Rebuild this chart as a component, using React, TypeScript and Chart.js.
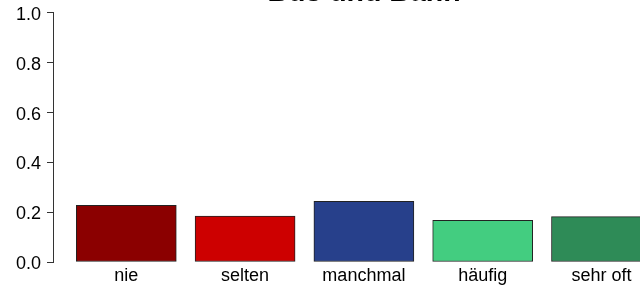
import { useEffect, useRef } from 'react';
import { Chart, registerables } from 'chart.js';

Chart.register(...registerables);

const chartTitle = 'Bus und Bahn';
const categories = ['nie', 'selten', 'manchmal', 'häufig', 'sehr oft'];
const values = [0.227, 0.184, 0.244, 0.167, 0.182];
const barColors = ['#8B0000', '#CD0000', '#27408B', '#43CD80', '#2E8B57'];
const yTicks = [0, 0.2, 0.4, 0.6, 0.8, 1.0];

const CANVAS_W = 728;
const CANVAS_H = 315;
const CANVAS_TOP = -24;
const X_MIN = -0.617;
const X_MAX = 5.065;

export default function App() {
  const ref = useRef<HTMLCanvasElement | null>(null);

  useEffect(() => {
    if (!ref.current) return;
    Chart.defaults.font.family = '"Liberation Sans", Arial, sans-serif';
    const chart = new Chart(ref.current, {
      type: 'bar',
      data: {
        datasets: [
          {
            data: values.map((v, i) => ({ x: i, y: v })),
            backgroundColor: barColors,
            borderColor: '#222',
            borderWidth: 1,
            borderSkipped: false,
            barThickness: 100,
            clip: false,
          } as any,
        ],
      },
      options: {
        animation: false,
        responsive: false,
        devicePixelRatio: 1,
        layout: { padding: { left: 0, right: 0, top: 0, bottom: 1.4 } },
        plugins: {
          legend: { display: false },
          tooltip: { enabled: false },
          title: {
            display: true,
            text: chartTitle,
            color: '#000',
            font: { size: 28.5, weight: 'bold' },
            padding: { top: 0, bottom: 2.7 },
          },
        },
        scales: {
          x: {
            type: 'linear',
            min: X_MIN,
            max: X_MAX,
            offset: false,
            grid: { display: false, drawTicks: false, offset: false },
            border: { display: false },
            ticks: {
              stepSize: 1,
              includeBounds: false,
              autoSkip: false,
              maxRotation: 0,
              padding: 3,
              color: '#000',
              font: { size: 18 },
              callback: (v: any) => {
                const n = Number(v);
                return Number.isInteger(n) && categories[n] !== undefined ? categories[n] : '';
              },
            },
          },
          y: {
            min: 0,
            max: 1,
            grid: {
              display: true,
              drawOnChartArea: false,
              drawTicks: true,
              tickLength: 6,
              color: '#333',
              lineWidth: 1,
            },
            border: { display: true, color: '#333', width: 1 },
            afterBuildTicks: (s: any) => {
              s.ticks = yTicks.map((v) => ({ value: v }));
            },
            afterFit: (s: any) => {
              s.width = 53;
            },
            ticks: {
              padding: 6,
              labelOffset: 2,
              color: '#000',
              font: { size: 18 },
              callback: (v: any) => Number(v).toFixed(1),
            },
          },
        },
      } as any,
    });
    return () => chart.destroy();
  }, []);

  return (
    <div
      style={{
        position: 'fixed',
        left: 0,
        top: 0,
        width: 640,
        height: 288,
        overflow: 'hidden',
        background: '#fff',
      }}
    >
      <canvas
        ref={ref}
        width={CANVAS_W}
        height={CANVAS_H}
        style={{ position: 'absolute', left: 0, top: CANVAS_TOP, display: 'block' }}
      />
    </div>
  );
}
